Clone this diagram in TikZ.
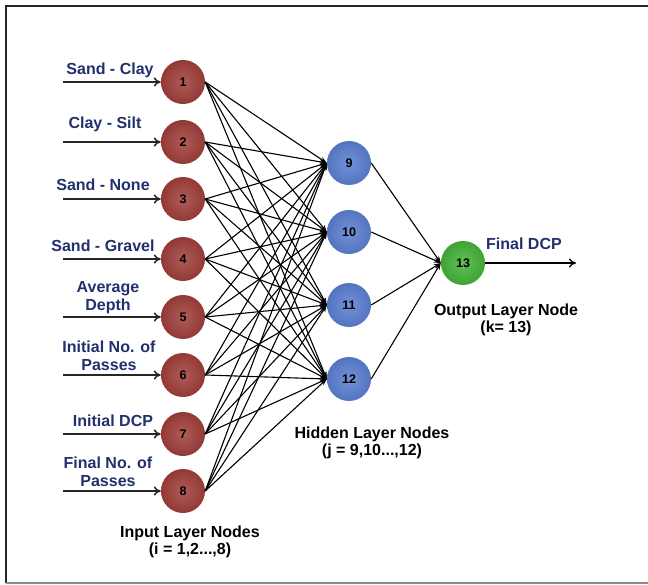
\documentclass[tikz,border=0pt]{standalone}
\usepackage{fontspec}
\setmainfont{Liberation Sans}
\usetikzlibrary{arrows.meta}
\definecolor{navy}{HTML}{23306E}
\definecolor{inred}{HTML}{A23F3B}
\definecolor{hidblue}{HTML}{5A7ED0}
\definecolor{outgreen}{HTML}{45B53A}
\tikzset{
  neuron/.style={circle, minimum size=44pt, inner sep=0pt, font=\fontsize{12.5}{12.5}\selectfont\bfseries},
  innode/.style={neuron, shading=radial, inner color=inred!85!white, outer color=inred!90!black},
  hidnode/.style={neuron, shading=radial, inner color=hidblue!85!white, outer color=hidblue!92!black},
  outnode/.style={neuron, shading=radial, inner color=outgreen!85!white, outer color=outgreen!90!black},
  inlabel/.style={text=navy, font=\fontsize{16}{18}\selectfont\bfseries, align=center, inner sep=0pt},
  laylabel/.style={text=black, font=\fontsize{16}{17.5}\selectfont\bfseries, align=center, inner sep=0pt},
  inarrow/.style={-{To[length=7pt,width=9pt]}, line width=1.5pt, black!85},
  wire/.style={-{Stealth[length=7pt,width=5pt]}, line width=1.1pt},
}
\begin{document}
\begin{tikzpicture}[x=1pt,y=-1pt]
\useasboundingbox (0,0) rectangle (648,585);
\fill[white] (0,0) rectangle (648,585);
% frame
\draw[line width=2.5pt, black!85] (649,6) -- (6,6) -- (6,583);
\draw[line width=1.5pt, black!45] (6,583) -- (649,583);

% input nodes
\foreach \n/\y in {1/82,2/142,3/199,4/259,5/317,6/375,7/434,8/491}{
  \node[innode] (n\n) at (183,\y) {\n};
  \coordinate (s\n) at (63,\y);
  \draw[inarrow] (s\n) -- (n\n.west);
}
% hidden nodes
\foreach \n/\y in {9/163,10/232,11/305,12/379}{
  \node[hidnode] (n\n) at (349,\y) {\n};
}
\node[outnode] (n13) at (463,263) {13};
\coordinate (fout) at (576,263);

% connections
\foreach \i in {1,...,8}{
  \foreach \j in {9,...,12}{
    \draw[wire] (n\i.east) -- (n\j.west);
  }
}
\foreach \j in {9,...,12}{
  \draw[wire] (n\j.east) -- (n13.west);
}
\draw[-{To[length=7pt,width=9pt]}, line width=1.3pt] (n13.east) -- (fout);

% input labels
\node[inlabel] at (110,70) {Sand - Clay};
\node[inlabel] at (105,124) {Clay - Silt};
\node[inlabel] at (103,185) {Sand - None};
\node[inlabel] at (103,246) {Sand - Gravel};
\node[inlabel] at (108,298) {Average\\Depth};
\node[inlabel] at (109,356) {Initial No. of\\Passes};
\node[inlabel] at (113,421) {Initial DCP};
\node[inlabel] at (108,472) {Final No. of\\Passes};
\node[inlabel] at (524,244) {Final DCP};

% layer labels
\node[laylabel] at (190,542) {Input Layer Nodes\\(i = 1,2...,8)};
\node[laylabel] at (372,443) {Hidden Layer Nodes\\(j = 9,10...,12)};
\node[laylabel] at (506,320) {Output Layer Node\\(k= 13)};
\end{tikzpicture}
\end{document}
